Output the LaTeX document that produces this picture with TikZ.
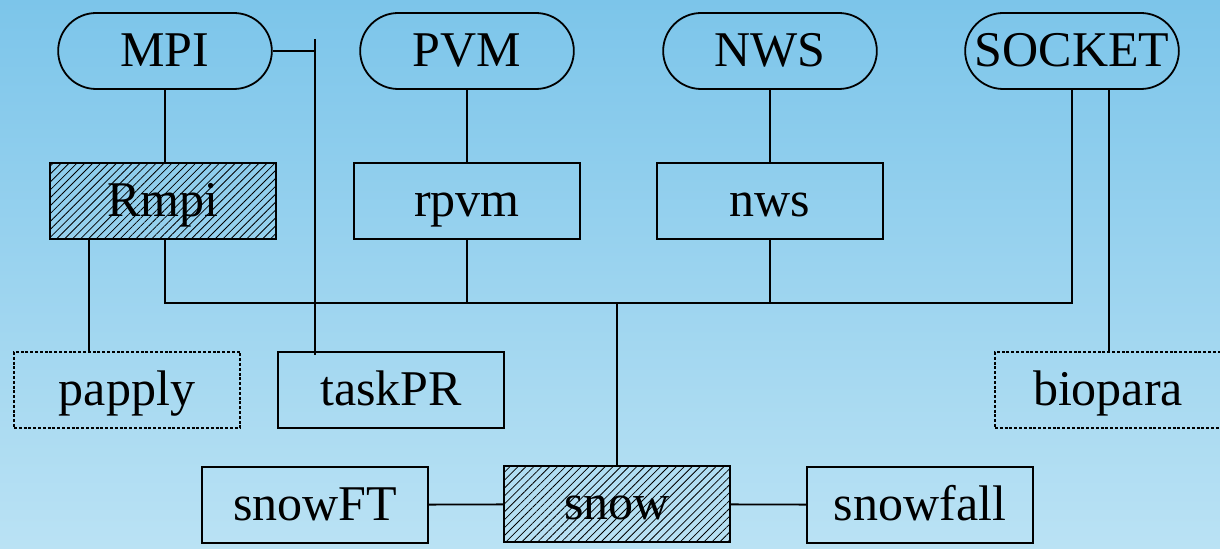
\documentclass[tikz,border=0pt]{standalone}
\usepackage{fontspec}
\setmainfont{Liberation Serif}
\usetikzlibrary{shapes.misc,positioning,calc,patterns.meta}
\definecolor{bgtop}{RGB}{124,197,234}
\definecolor{bgbot}{RGB}{186,226,244}
\tikzset{LAYER/.style={rounded rectangle,minimum width=113.5pt,minimum height=38pt,draw,line width=0.9pt,text height=17pt,text depth=1pt,font=\fontsize{25}{30}\selectfont}}
\tikzset{PKG/.style={rectangle,minimum width=113pt,minimum height=38pt,draw,line width=0.9pt,text height=17pt,text depth=1pt,font=\fontsize{25}{30}\selectfont}}
\tikzset{HATCH/.style={PKG,line width=0.7pt,pattern={Lines[angle=45,distance=2.8pt,line width=0.4pt]}}}
\tikzset{EXTRA/.style={PKG,line width=1.1pt,dash pattern=on 1.5pt off 0.9pt}}
\tikzset{LINK/.style={line width=0.9pt}}
\tikzset{BUS/.style={line width=1.4pt}}

\begin{document}
\begin{tikzpicture}[x=0.5pt,y=-0.5pt]

\shade[top color=bgtop,bottom color=bgbot] (0,0) rectangle (1220,549);
\useasboundingbox (0,0) rectangle (1220,549);

% communication layers
\node[LAYER] (n_mpi) at (165,51) {MPI};
\node[LAYER] (n_pvm) at (467,51) {PVM};
\node[LAYER] (n_nws) at (770,51) {NWS};
\node[LAYER] (n_socket) at (1072,51) {SOCKET};

% R packages
\node[HATCH] (n_rmpi) at (163,201) {Rmpi};
\node[PKG] (n_rpvm) at (467,201) {rpvm};
\node[PKG] (n_nwspkg) at (770,201) {nws};

\node[EXTRA] (n_papply) at (127,390) {papply};
\node[PKG] (n_taskpr) at (391,390) {taskPR};
\node[EXTRA] (n_biopara) at (1108,390) {biopara};

\node[HATCH] (n_snow) at (617,504) {snow};
\node[PKG] (n_snowft) at (315,505) {snowFT};
\node[PKG] (n_snowfall) at (920,505) {snowfall};

\coordinate (c_bus) at (617,303);
\coordinate (c_tee) at (315,39);

\draw[LINK] (n_mpi.south) -- (n_mpi.south |- n_rmpi.north);
\draw[LINK] (n_pvm) -- (n_rpvm);
\draw[LINK] (n_nws) -- (n_nwspkg);

\draw[LINK] (n_mpi.south |- n_rmpi.south) |- (c_bus) -| (n_socket.south);
\draw[LINK] (n_rpvm.south) -- (n_rpvm.south |- c_bus);
\draw[LINK] (n_nwspkg.south) -- (n_nwspkg.south |- c_bus);
\draw[BUS] (c_bus) -- (n_snow.north);

\draw[LINK] ([xshift=-37pt]n_rmpi.south) -- ([xshift=-37pt]n_rmpi.south |- n_papply.north);
\draw[LINK] (n_mpi.east) -- (n_mpi.east -| c_tee);
\draw[LINK] (c_tee) -- ([yshift=-2pt]c_tee |- n_taskpr.north);
\draw[LINK] ([xshift=18.5pt]n_socket.south) -- ([xshift=18.5pt]n_socket.south |- n_biopara.north);

\draw[LINK] (n_snowft) -- (n_snow);
\draw[LINK] (n_snow) -- (n_snowfall);

\end{tikzpicture}
\end{document}
